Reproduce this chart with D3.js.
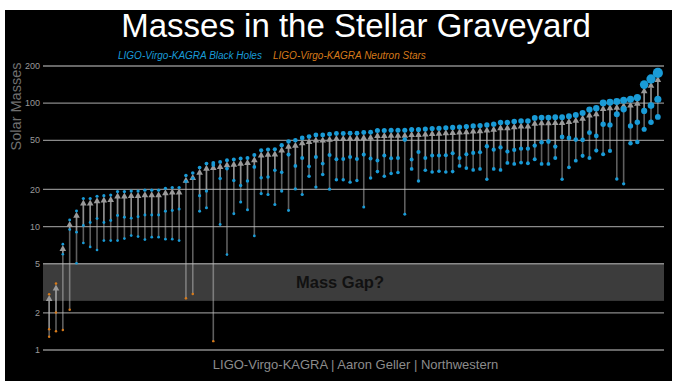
<!DOCTYPE html>
<html><head><meta charset="utf-8">
<script src="https://cdn.jsdelivr.net/npm/d3@7"></script>
<style>
html,body{margin:0;padding:0;background:#fff;}
svg{display:block;}
text{font-family:"Liberation Sans",Arial,Helvetica,sans-serif;}
</style></head><body>
<svg id="chart" width="678" height="381"></svg>
<script>
// Final (remnant) mass of each merger, in solar masses, ordered by remnant mass
const finalMass = [2.83,3.45,7.2,11.3,13.4,16.9,16.9,17.6,17.8,18.0,
  19.2,19.2,19.4,19.4,19.7,19.7,19.7,20.4,20.7,20.7,
  25.9,27.2,30.1,32.4,32.8,33.4,34.5,34.9,35.6,36.0,
  38.0,41.5,42.1,42.3,45.6,48.9,50.0,52.3,53.6,55.2,
  55.2,56.0,56.7,56.7,57.0,57.0,57.8,58.1,60.0,60.0,
  60.3,60.3,60.3,61.1,61.1,61.8,62.3,62.6,63.2,63.6,
  64.1,64.6,65.4,65.8,66.6,67.6,69.6,69.6,70.9,71.8,
  71.8,75.9,76.4,76.4,76.9,76.9,78.3,80.3,83.3,88.7,
  90.9,100.4,101.7,103,105.6,107.5,110.9,141.4,157,175.8];
// Heavier component of each merger
const mass1 = [1.47,2.01,5.97,9.46,9.0,10.2,10.8,11.6,10.8,11.2,
  12.3,11.9,11.7,12.0,12.4,12.4,12.4,13.3,13.5,13.9,
  23.2,24.6,17.8,19.4,31.6,24.5,29.5,23.6,21.5,23.4,
  30.4,24.9,25.2,28.6,27.5,38.3,31.0,36.0,30.8,36.6,
  32.4,38.0,35.1,35.3,36.6,35.3,38.3,35.6,34.3,37.6,
  35.8,36.0,50.7,34.9,40.2,36.0,37.6,37.6,37.9,39.3,
  36.0,38.5,39.5,40.0,44.8,42.0,43.8,40.5,41.8,42.8,
  42.8,45.3,48.2,48.8,44.5,53.3,52.3,50.7,50.4,57.7,
  54.3,67.5,66.6,81.3,89.2,65.4,70.0,86.5,95.5,107.5];
// Lighter component of each merger
const mass2 = [1.28,1.42,1.45,2.12,5.04,7.36,6.84,6.46,7.7,7.7,
  7.7,8.0,8.45,8.3,7.85,8.2,8.2,7.9,7.9,7.7,
  2.62,2.84,13.3,14.2,1.18,10.4,5.93,12.7,15.8,13.7,
  8.4,18.5,18.2,15.1,19.4,13.5,20.2,18.2,25.6,20.9,
  26.4,20.1,24.0,24.0,22.9,23.6,14.4,24.8,27.9,25.6,
  26.9,27.4,12.6,29.3,23.4,28.6,27.7,28.1,27.7,27.9,
  31.0,29.8,28.8,29.3,24.2,29.3,28.8,32.8,32.2,33.0,
  32.6,35.1,32.2,32.2,36.0,24.2,30.2,34.2,37.4,36.0,
  41.3,38.5,41.0,24.3,22.2,47.3,48.5,61.4,70.0,77.3];
// Events whose objects are neutron stars (everything else is a black hole)
const nsFinal = [0,1];
const nsMass1 = [0,1];
const nsMass2 = [0,1,2,3,20,21,24];

const yTicks = [1,2,5,10,20,50,100,200];
const massGap = [2.5,5];

const titleText = "Masses in the Stellar Graveyard";
const legendItems = ["LIGO-Virgo-KAGRA Black Holes","LIGO-Virgo-KAGRA Neutron Stars"];
const yTitle = "Solar Masses";
const gapLabel = "Mass Gap?";
const credit = "LIGO-Virgo-KAGRA | Aaron Geller | Northwestern";

const BH = "#199bd7", NS = "#d77a1a";

const svg = d3.select("#chart");
const left = 43, right = 664;

svg.append("rect").attr("x",5).attr("y",10).attr("width",667).attr("height",371).attr("fill","#000");

const idx = d3.range(finalMass.length);
const x = d3.scalePoint().domain(idx).range([left,right]).padding(0.9);
const y = d3.scaleLog().domain([1,200]).range([350,66]);
const r = d3.scaleLinear().domain([0,200]).range([1.2,5.6]);

// mass gap band
svg.append("rect").attr("x",left).attr("width",right-left)
  .attr("y",y(massGap[1])).attr("height",y(massGap[0])-y(massGap[1]))
  .attr("fill","#3c3c3c");

// gridlines + labels
const g = svg.append("g");
g.selectAll("line").data(yTicks).join("line")
  .attr("x1",left).attr("x2",right)
  .attr("y1",d=>y(d)).attr("y2",d=>y(d))
  .attr("stroke","#8a8a8a").attr("stroke-width",1.3);
g.selectAll("text").data(yTicks).join("text")
  .attr("x",40).attr("y",d=>y(d)).attr("dy","0.35em")
  .attr("text-anchor","end").attr("fill","#9a9a9a").attr("font-size",9)
  .text(d=>d);

svg.append("text").attr("transform",`translate(21,${y(94)}) rotate(-90)`)
  .attr("text-anchor","middle").attr("fill","#6f6f6f").attr("font-size",14.5)
  .text(yTitle);

svg.append("text").attr("x",340).attr("y",y(3.55)).attr("dy","0.35em")
  .attr("text-anchor","middle").attr("font-weight","bold").attr("font-size",16.5)
  .attr("fill","#111").text(gapLabel);

// arrows: each component points up to the remnant
const arrows = svg.append("g");
const comps = [];
idx.forEach(i=>{
  comps.push({i, m:mass2[i]});
  comps.push({i, m:mass1[i]});
});
arrows.selectAll("line").data(comps).join("line")
  .attr("x1",d=>x(d.i)).attr("x2",d=>x(d.i))
  .attr("y1",d=>y(d.m))
  .attr("y2",d=>y(finalMass[d.i])+r(finalMass[d.i])+4)
  .attr("stroke","#bdbdbd").attr("stroke-opacity",0.5).attr("stroke-width",1.6);
arrows.selectAll("path").data(idx).join("path")
  .attr("d",i=>{
    const cx = x(i), tip = y(finalMass[i])+r(finalMass[i])*0.6;
    return `M${cx},${tip}L${cx-3.3},${tip+6}L${cx+3.3},${tip+6}Z`;
  })
  .attr("fill","#9a9a9a");

// component and remnant markers
const dots = svg.append("g");
function drawSet(vals, nsList){
  dots.append("g").selectAll("circle").data(idx).join("circle")
    .attr("cx",i=>x(i)).attr("cy",i=>y(vals[i])).attr("r",i=>r(vals[i]))
    .attr("fill",i=>nsList.includes(i)?NS:BH);
}
drawSet(mass2, nsMass2);
drawSet(mass1, nsMass1);
drawSet(finalMass, nsFinal);

// title and legend
svg.append("text").attr("x",356).attr("y",37).attr("text-anchor","middle")
  .attr("fill","#fff").attr("font-size",33).text(titleText);
svg.append("text").attr("x",118).attr("y",58.5).attr("font-style","italic")
  .attr("font-size",10).attr("fill",BH).text(legendItems[0]);
svg.append("text").attr("x",273).attr("y",58.5).attr("font-style","italic")
  .attr("font-size",10).attr("fill",NS).text(legendItems[1]);

svg.append("text").attr("x",355.5).attr("y",369).attr("text-anchor","middle")
  .attr("fill","#8c8c8c").attr("font-size",13).text(credit);
</script>
</body></html>
